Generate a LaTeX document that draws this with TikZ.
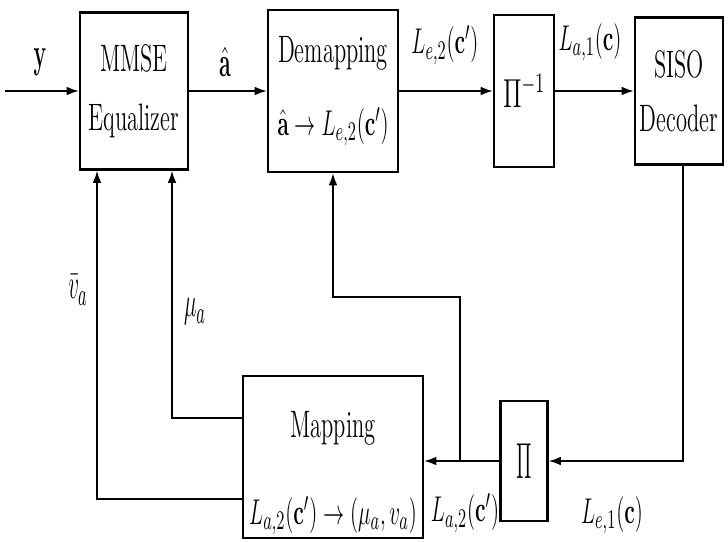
\documentclass[tikz,border=0pt]{standalone}
\usepackage{amsmath,amssymb}
\usepackage{graphicx}
\usetikzlibrary{arrows.meta,positioning,calc}
% vertically stretched text, as in the scanned figure
\newcommand{\tallbox}[2][1.7]{\scalebox{1}[#1]{#2}}
\tikzset{
  % processing block
  blk/.style={rectangle, draw=black, line width=1.3pt, fill=white, align=center,
              font=\fontsize{12.8}{15}\selectfont, inner sep=2pt},
  % signal line, arrow at the end
  sig/.style={-{Latex[length=7pt,width=5pt]}, line width=1pt},
  % signal label
  siglbl/.style={font=\fontsize{12.8}{15}\selectfont, inner sep=1pt},
}

\begin{document}
\begin{tikzpicture}
  \useasboundingbox (0,0) rectangle (14.56,10.82);

  % forward path
  \node[blk, minimum width=2.16cm, minimum height=3.14cm] (eq) at (2.68,9.00)
    {\tallbox{MMSE}\\[17pt]\tallbox{Equalizer}};
  \node[blk, minimum width=2.6cm, minimum height=3.24cm] (demap) at (6.66,9.00)
    {\tallbox{Demapping}\\[20pt]\tallbox{$\hat{\mathbf{a}}\rightarrow L_{e,2}(\mathbf{c}')$}};
  \node[blk, minimum width=1.2cm, minimum height=3.04cm] (pinv) at (10.48,9.00)
    {\tallbox[1.6]{\Large$\Pi^{-1}$}};
  \node[blk, minimum width=1.76cm, minimum height=2.94cm] (siso) at (13.58,9.00)
    {\tallbox{SISO}\\[14pt]\tallbox{Decoder}};

  % feedback path
  \node[blk, minimum width=3.6cm, minimum height=3.22cm] (map) at (6.66,1.68)
    {\rule{0pt}{33pt}\tallbox{Mapping}\\[28pt]\tallbox{$L_{a,2}(\mathbf{c}')\rightarrow(\mu_a,v_a)$}};
  \node[blk, minimum width=0.94cm, minimum height=2.4cm] (pi) at (10.48,1.60)
    {\tallbox[2.4]{$\Pi$}};

  % signal labels
  \node[siglbl] (ylbl) at (0.8,9.58) {\tallbox[2]{$\mathbf{y}$}};
  \node[siglbl] (ahatlbl) at (4.5,9.58) {\tallbox[2]{$\hat{\mathbf{a}}$}};
  \node[siglbl] (le2lbl) at (8.9,9.92) {\tallbox{$L_{e,2}(\mathbf{c}')$}};
  \node[siglbl] (la1lbl) at (11.8,9.98) {\tallbox{$L_{a,1}(\mathbf{c})$}};
  \node[siglbl] (vlbl) at (1.56,5.02) {\tallbox[2]{$\bar{v}_a$}};
  \node[siglbl] (mulbl) at (3.9,4.58) {\tallbox[2]{$\mu_a$}};
  \node[siglbl] (la2lbl) at (9.3,0.56) {\tallbox{$L_{a,2}(\mathbf{c}')$}};
  \node[siglbl] (le1lbl) at (12.24,0.52) {\tallbox{$L_{e,1}(\mathbf{c})$}};

  % forward connections
  \coordinate (in) at (0.1,9.00);
  \draw[sig] (in) -- (eq.west);
  \draw[sig] (eq.east) -- (demap.west);
  \draw[sig] (demap.east) -- (pinv.west);
  \draw[sig] (pinv.east) -- (siso.west);

  % decoder output back through the interleaver
  \coordinate (turn) at ($(siso.south |- pi.east)+(0.08,0)$);
  \draw[sig] ($(siso.south)+(0.08,0)$) -- (turn) -- (pi.east);
  \draw[sig] (pi.west) -- (pi.west -| map.east);

  % a priori to demapper
  \coordinate (split) at ($(pi.west)+(-0.79,0)$);
  \coordinate (up) at ($(split)+(0,3.28)$);
  \draw[sig] (split) -- (up) -| (demap.south);

  % mean and variance to equalizer
  \coordinate (mucorner) at (3.44,2.46);
  \draw[sig] (map.west |- mucorner) -- (mucorner) -- (mucorner |- eq.south);
  \coordinate (vcorner) at (1.94,0.84);
  \draw[sig] (map.west |- vcorner) -- (vcorner) -- (vcorner |- eq.south);
\end{tikzpicture}
\end{document}
